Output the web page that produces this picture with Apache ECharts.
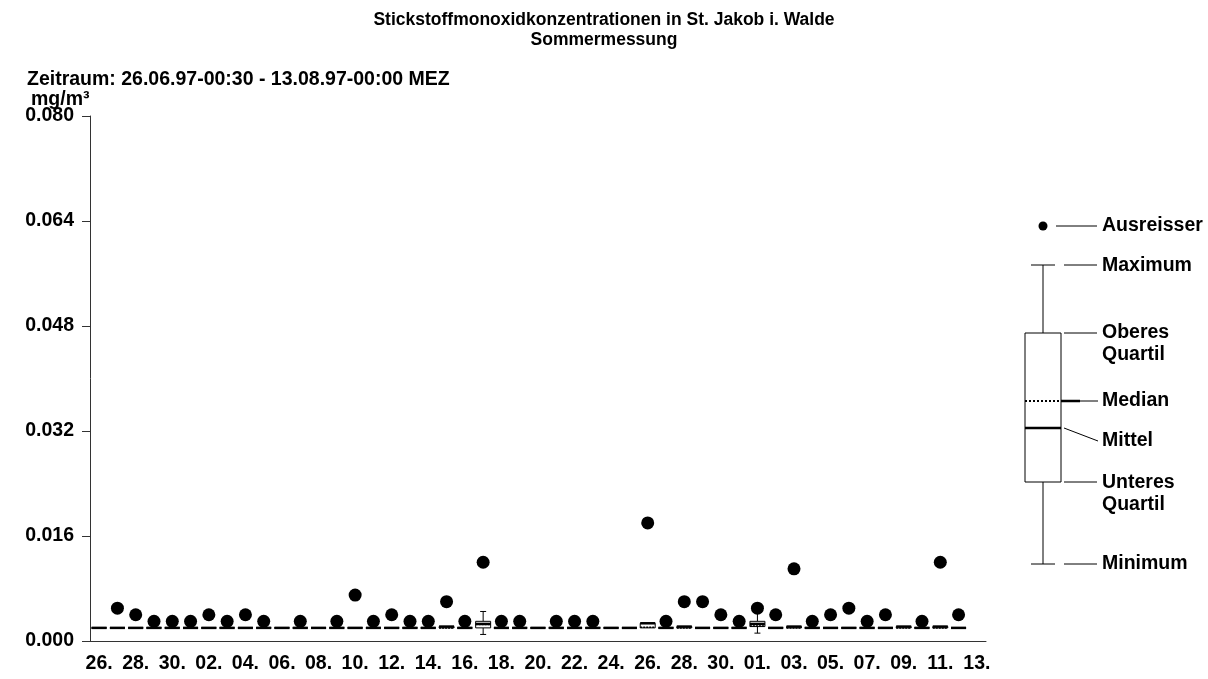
<!DOCTYPE html>
<html>
<head>
<meta charset="utf-8">
<script src="https://cdn.jsdelivr.net/npm/echarts@6/dist/echarts.min.js"></script>
<style>
  html, body { margin: 0; padding: 0; background: #fff; }
  #chart { width: 1208px; height: 679px; }
</style>
</head>
<body>
<div id="chart"></div>
<script>
// Tage 26.06.97 - 13.08.97
const days = ['26.','27.','28.','29.','30.',
  '01.','02.','03.','04.','05.','06.','07.','08.','09.','10.','11.','12.','13.','14.','15.','16.',
  '17.','18.','19.','20.','21.','22.','23.','24.','25.','26.','27.','28.','29.','30.','31.',
  '01.','02.','03.','04.','05.','06.','07.','08.','09.','10.','11.','12.','13.'];

// Tageswerte in mg/m³ (null = keine Daten)
const boxMin = [0.002,0.002,0.002,0.002,0.002, 0.002,0.002,0.002,0.002,0.002,0.002,0.002,0.002,0.002,0.002,0.002,0.002,0.002,0.002,0.002,0.002,
  0.001,0.002,0.002,0.002,0.002,0.002,0.002,0.002,0.002,0.002,0.002,0.002,0.002,0.002,0.002,
  0.0012,0.002,0.002,0.002,0.002,0.002,0.002,0.002,0.002,0.002,0.002,0.002,null];
const boxQ1 = [0.002,0.002,0.002,0.002,0.002, 0.002,0.002,0.002,0.002,0.002,0.002,0.002,0.002,0.002,0.002,0.002,0.002,0.002,0.002,0.002,0.002,
  0.002,0.002,0.002,0.002,0.002,0.002,0.002,0.002,0.002,0.002,0.002,0.002,0.002,0.002,0.002,
  0.0022,0.002,0.002,0.002,0.002,0.002,0.002,0.002,0.002,0.002,0.002,0.002,null];
const boxMedian = [0.002,0.002,0.002,0.002,0.002, 0.002,0.002,0.002,0.002,0.002,0.002,0.002,0.002,0.002,0.002,0.002,0.002,0.002,0.002,0.002,0.002,
  0.0025,0.002,0.002,0.002,0.002,0.002,0.002,0.002,0.002,0.0021,0.002,0.002,0.002,0.002,0.002,
  0.0023,0.002,0.002,0.002,0.002,0.002,0.002,0.002,0.002,0.002,0.002,0.002,null];
const boxQ3 = [0.002,0.002,0.002,0.002,0.002, 0.002,0.002,0.002,0.002,0.002,0.002,0.002,0.002,0.002,0.002,0.002,0.002,0.002,0.002,0.0022,0.002,
  0.003,0.002,0.002,0.002,0.002,0.002,0.002,0.002,0.002,0.0027,0.002,0.0022,0.002,0.002,0.002,
  0.003,0.002,0.0022,0.002,0.002,0.002,0.002,0.002,0.0022,0.002,0.0022,0.002,null];
const boxMax = [0.002,0.002,0.002,0.002,0.002, 0.002,0.002,0.002,0.002,0.002,0.002,0.002,0.002,0.002,0.002,0.002,0.002,0.002,0.002,0.0022,0.002,
  0.0045,0.002,0.002,0.002,0.002,0.002,0.002,0.002,0.002,0.0027,0.002,0.0022,0.002,0.002,0.002,
  0.0045,0.002,0.0022,0.002,0.002,0.002,0.002,0.002,0.0022,0.002,0.0022,0.002,null];
const boxMean = [0.002,0.002,0.002,0.002,0.002, 0.002,0.002,0.002,0.002,0.002,0.002,0.002,0.002,0.002,0.002,0.002,0.002,0.002,0.002,0.0022,0.002,
  0.0026,0.002,0.002,0.002,0.002,0.002,0.002,0.002,0.002,0.0027,0.002,0.0022,0.002,0.002,0.002,
  0.0026,0.002,0.0022,0.002,0.002,0.002,0.002,0.002,0.0022,0.002,0.0022,0.002,null];
const outliers = [null,0.005,0.004,0.003,0.003, 0.003,0.004,0.003,0.004,0.003,null,0.003,null,0.003,0.007,0.003,0.004,0.003,0.003,0.006,0.003,
  0.012,0.003,0.003,null,0.003,0.003,0.003,null,null,0.018,0.003,0.006,0.006,0.004,0.003,
  0.005,0.004,0.011,0.003,0.004,0.005,0.003,0.004,null,0.003,0.012,0.004,null];

const FONT = '"Liberation Sans", Arial, sans-serif';
const FS = 19.5;

const boxData = [];
days.forEach(function (d, i) {
  if (boxMin[i] == null) return;
  boxData.push([i, boxMin[i], boxQ1[i], boxMedian[i], boxQ3[i], boxMax[i], boxMean[i]]);
});
const outlierData = [];
outliers.forEach(function (v, i) {
  if (v != null) outlierData.push([i, v]);
});

function renderBox(params, api) {
  const i = api.value(0);
  const x = api.coord([i, 0])[0];
  const y = function (k) { return api.coord([i, api.value(k)])[1]; };
  const yMin = y(1), yQ1 = y(2), yMed = y(3), yQ3 = y(4), yMax = y(5), yMean = y(6);
  const half = 7.5, cap = 3;
  const ln = { stroke: '#000', lineWidth: 1 };
  const children = [];
  if (yMax < yQ3 - 0.5) {
    children.push({ type: 'line', shape: { x1: x, y1: yMax, x2: x, y2: yQ3 }, style: ln });
    children.push({ type: 'line', shape: { x1: x - cap, y1: yMax, x2: x + cap, y2: yMax }, style: ln });
  }
  if (yMin > yQ1 + 0.5) {
    children.push({ type: 'line', shape: { x1: x, y1: yQ1, x2: x, y2: yMin }, style: ln });
    children.push({ type: 'line', shape: { x1: x - cap, y1: yMin, x2: x + cap, y2: yMin }, style: ln });
  }
  children.push({ type: 'rect', shape: { x: x - half, y: yQ3, width: half * 2, height: yQ1 - yQ3 },
    style: { fill: '#fff', stroke: '#000', lineWidth: 1 } });
  children.push({ type: 'line', shape: { x1: x - half, y1: yMed, x2: x + half, y2: yMed },
    style: { stroke: '#000', lineWidth: 1.5, lineDash: [2, 1] } });
  children.push({ type: 'line', shape: { x1: x - half, y1: yMean, x2: x + half, y2: yMean },
    style: { stroke: '#000', lineWidth: 2.5 } });
  return { type: 'group', children: children };
}

// Legende (Schema eines Boxplots)
const lk = { stroke: '#000', lineWidth: 1 };
const lt = { fill: '#000', font: 'bold ' + FS + 'px ' + FONT, verticalAlign: 'middle' };
function lline(x1, y1, x2, y2, style) {
  return { type: 'line', shape: { x1: x1, y1: y1, x2: x2, y2: y2 }, style: style || lk };
}
function ltext(x, y, txt) {
  return { type: 'text', x: x, y: y, style: Object.assign({ text: txt }, lt) };
}
const legendGraphic = [
  { type: 'circle', shape: { cx: 1043, cy: 226, r: 4.5 }, style: { fill: '#000' } },
  lline(1056, 226, 1097, 226), ltext(1102, 226, 'Ausreisser'),
  lline(1031, 265, 1055, 265), lline(1064, 265, 1097, 265), ltext(1102, 266, 'Maximum'),
  lline(1043, 265, 1043, 333), lline(1043, 482, 1043, 564),
  { type: 'rect', shape: { x: 1025, y: 333, width: 36, height: 149 }, style: { fill: '#fff', stroke: '#000', lineWidth: 1 } },
  lline(1064, 333, 1097, 333), ltext(1102, 333, 'Oberes'), ltext(1102, 355, 'Quartil'),
  lline(1025, 401, 1061, 401, { stroke: '#000', lineWidth: 2, lineDash: [2, 2] }),
  lline(1061, 401, 1080, 401, { stroke: '#000', lineWidth: 2.5 }),
  lline(1080, 401, 1098, 401), ltext(1102, 401, 'Median'),
  lline(1025, 428, 1061, 428, { stroke: '#000', lineWidth: 2.5 }),
  lline(1064, 428, 1098, 441), ltext(1102, 441, 'Mittel'),
  lline(1064, 482, 1097, 482), ltext(1102, 483, 'Unteres'), ltext(1102, 505, 'Quartil'),
  lline(1031, 564, 1055, 564), lline(1064, 564, 1097, 564), ltext(1102, 564, 'Minimum')
];

const chart = echarts.init(document.getElementById('chart'));
chart.setOption({
  animation: false,
  backgroundColor: '#fff',
  textStyle: { fontFamily: FONT },
  title: [{
    text: 'Stickstoffmonoxidkonzentrationen in St. Jakob i. Walde',
    left: 'center', top: 6,
    textStyle: { fontSize: 17.5, fontWeight: 'bold', color: '#000', fontFamily: FONT }
  }, {
    text: 'Sommermessung',
    left: 'center', top: 26,
    textStyle: { fontSize: 17.5, fontWeight: 'bold', color: '#000', fontFamily: FONT }
  }, {
    text: 'Zeitraum: 26.06.97-00:30 - 13.08.97-00:00 MEZ',
    left: 22, top: 65,
    textStyle: { fontSize: FS, fontWeight: 'bold', color: '#000', fontFamily: FONT }
  }, {
    text: 'mg/m³',
    left: 26, top: 85,
    textStyle: { fontSize: FS, fontWeight: 'bold', color: '#000', fontFamily: FONT }
  }],
  grid: { left: 90, right: 222, top: 116, bottom: 38, containLabel: false },
  xAxis: {
    type: 'category',
    data: days,
    boundaryGap: true,
    axisLine: { lineStyle: { color: '#333', width: 1 } },
    axisTick: { alignWithLabel: true, interval: 0, length: 11, lineStyle: { color: '#333' } },
    axisLabel: { interval: 1, color: '#000', fontSize: FS, fontWeight: 'bold', margin: 13, fontFamily: FONT },
    splitLine: { show: false }
  },
  yAxis: {
    type: 'value',
    min: 0, max: 0.08, interval: 0.016,
    axisLine: { show: true, lineStyle: { color: '#333', width: 1 } },
    axisTick: { show: true, length: 8, lineStyle: { color: '#333' } },
    axisLabel: {
      color: '#000', fontSize: FS, fontWeight: 'bold', margin: 16, fontFamily: FONT,
      formatter: function (v) { return v.toFixed(3); }
    },
    splitLine: { show: false }
  },
  series: [{
    type: 'custom',
    renderItem: renderBox,
    data: boxData,
    encode: { x: 0, y: [1, 2, 3, 4, 5, 6] },
    z: 2
  }, {
    type: 'scatter',
    data: outlierData,
    symbol: 'circle',
    symbolSize: 13,
    itemStyle: { color: '#000', opacity: 1 },
    z: 3
  }],
  graphic: legendGraphic
});
</script>
</body>
</html>
